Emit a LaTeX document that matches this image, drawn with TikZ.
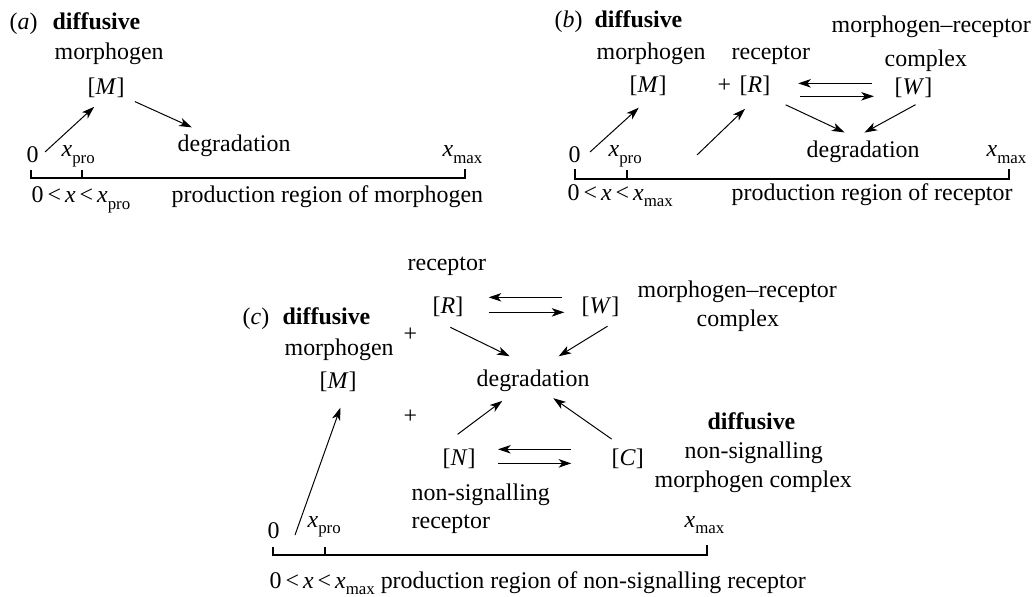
\documentclass[tikz,border=0pt]{standalone}
\usepackage{fontspec}
\setmainfont{Liberation Serif}
\usetikzlibrary{arrows.meta}
\newcommand{\xvar}[1]{\textit{x}\raisebox{-0.27em}{\fontsize{12}{12}\selectfont #1}}

\begin{document}
\begin{tikzpicture}[x=0.025cm,y=-0.025cm,font=\fontsize{17}{20}\selectfont,
  txt/.style={anchor=base west,inner sep=1pt},
  arr/.style={-{Stealth[length=9pt,width=6pt,inset=2.5pt]},line width=.7pt},
  axis/.style={line width=.75pt}]
\path[use as bounding box] (0,0) rectangle (1032,597);
\node[txt] (labA) at (8,30) {(\textit{a})};
\node[txt] (difA) at (51,30) {\textbf{diffusive}};
\node[txt] (morA) at (53,60) {morphogen};
\node[txt] (MA) at (86,95) {[\textit{M}]};
\node[txt] (degA) at (176,152) {degradation};
\node[txt] (zeroA) at (25,163) {0};
\node[txt] (xproA) at (60,157) {\xvar{pro}};
\node[txt] (xmaxA) at (441,157) {\xvar{max}};
\node[txt] (rngA) at (30,203) {0\,<\,\textit{x}\,<\,\xvar{pro}};
\node[txt] (prdA) at (170,203) {production region of morphogen};
\draw[axis] (31,170) -- (31,178) -- (465,178) -- (465,169);
\draw[axis] (82,178) -- (82,170);
\coordinate (pA) at (45,152);
\draw[arr,shorten >=7.3pt] (pA) -- (MA.-111);
\draw[arr,shorten <=6.7pt,shorten >=11pt] (MA.-25) -- (degA.156);

\node[txt] (labB) at (553,28) {(\textit{b})};
\node[txt] (difB) at (593,28) {\textbf{diffusive}};
\node[txt] (mrcB) at (830,33) {morphogen--receptor};
\node[txt] (morB) at (595,60) {morphogen};
\node[txt] (recB) at (730,60) {receptor};
\node[txt] (cpxB) at (883,67) {complex};
\node[txt] (MB) at (628,93) {[\textit{M}]};
\node[txt] (plusB) at (716,93) {+};
\node[txt] (RB) at (738,93) {[\textit{R}]};
\node[txt] (WB) at (893,95) {[\textit{W}]};
\node[txt] (degB) at (805,158) {degradation};
\node[txt] (zeroB) at (567,163) {0};
\node[txt] (xproB) at (607,157) {\xvar{pro}};
\node[txt] (xmaxB) at (985,157) {\xvar{max}};
\node[txt] (rngB) at (566,200) {0\,<\,\textit{x}\,<\,\xvar{max}};
\node[txt] (prdB) at (730,200) {production region of receptor};
\draw[axis] (575,169) -- (575,179) -- (1009,179) -- (1009,169);
\draw[axis] (627,179) -- (627,170);
\coordinate (pB) at (590,152);
\coordinate (qB) at (697,155);
\draw[arr,shorten >=10.4pt] (pB) -- (MB.-83);
\draw[arr,shorten >=11.2pt] (qB) -- (RB.-83);
\draw[arr,shorten <=11.6pt,shorten >=12.3pt] (RB.-36) -- (degB.103);
\draw[arr,shorten <=7.1pt,shorten >=10.6pt] (WB.-47) -- (degB.133);
\draw[arr,shorten <=15pt,shorten >=18.7pt] ([yshift=2.1pt]RB.east -| WB.west) -- ([yshift=2.1pt]RB.east);
\draw[arr,shorten <=20.1pt,shorten >=13.6pt] ([yshift=-7.1pt]RB.east) -- ([yshift=-7.1pt]RB.east -| WB.west);

\node[txt] (recC) at (406,270) {receptor};
\node[txt] (RC) at (431,313) {[\textit{R}]};
\node[txt] (WC) at (580,313) {[\textit{W}]};
\node[txt] (mrcC) at (636,297) {morphogen--receptor};
\node[txt] (cpxC) at (695,326) {complex};
\node[txt] (labC) at (241,324) {(\textit{c})};
\node[txt] (difC) at (281,324) {\textbf{diffusive}};
\node[txt] (plusC) at (402,341) {+};
\node[txt] (morC) at (283,355) {morphogen};
\node[txt] (MC) at (318,388) {[\textit{M}]};
\node[txt] (degC) at (475,386) {degradation};
\node[txt] (plusD) at (402,423) {+};
\node[txt] (difN) at (706,429) {\textbf{diffusive}};
\node[txt] (nsmC) at (683,458) {non-signalling};
\node[txt] (mcxC) at (653,487) {morphogen complex};
\node[txt] (NC) at (441,465) {[\textit{N}]};
\node[txt] (CC) at (610,465) {[\textit{C}]};
\node[txt] (nsrC) at (410,500) {non-signalling};
\node[txt] (rcpC) at (410,528) {receptor};
\node[txt] (zeroC) at (266,538) {0};
\node[txt] (xproC) at (306,527) {\xvar{pro}};
\node[txt] (xmaxC) at (683,527) {\xvar{max}};
\node[txt] (botC) at (268,588) {0\,<\,\textit{x}\,<\,\xvar{max} production region of non-signalling receptor};
\draw[axis] (273,547) -- (273,555) -- (707,555) -- (707,545);
\draw[axis] (325,555) -- (325,547);
\coordinate (pC) at (295,535);
\draw[arr,shorten >=11.2pt] (pC) -- (MC.-57);
\draw[arr,shorten <=15.3pt,shorten >=18.6pt] (RC.south west) -- (degC.north);
\draw[arr,shorten <=11.3pt,shorten >=15.5pt] (WC.south east) -- (degC.61);
\draw[arr,shorten <=14.7pt,shorten >=9.5pt] (NC.north west) -- (degC.-148);
\draw[arr,shorten <=9.5pt,shorten >=6.6pt] (CC.114) -- (degC.-45);
\draw[arr,shorten <=12.5pt,shorten >=16.9pt] ([yshift=6.4pt]RC.east -| WC.west) -- ([yshift=6.4pt]RC.east);
\draw[arr,shorten <=16.9pt,shorten >=11.1pt] ([yshift=-4.3pt]RC.east) -- ([yshift=-4.3pt]RC.east -| WC.west);
\draw[arr,shorten <=27.5pt,shorten >=14.7pt] ([yshift=6.4pt]NC.east -| CC.west) -- ([yshift=6.4pt]NC.east);
\draw[arr,shorten <=14.7pt,shorten >=27.5pt] ([yshift=-3.6pt]NC.east) -- ([yshift=-3.6pt]NC.east -| CC.west);
\end{tikzpicture}
\end{document}
